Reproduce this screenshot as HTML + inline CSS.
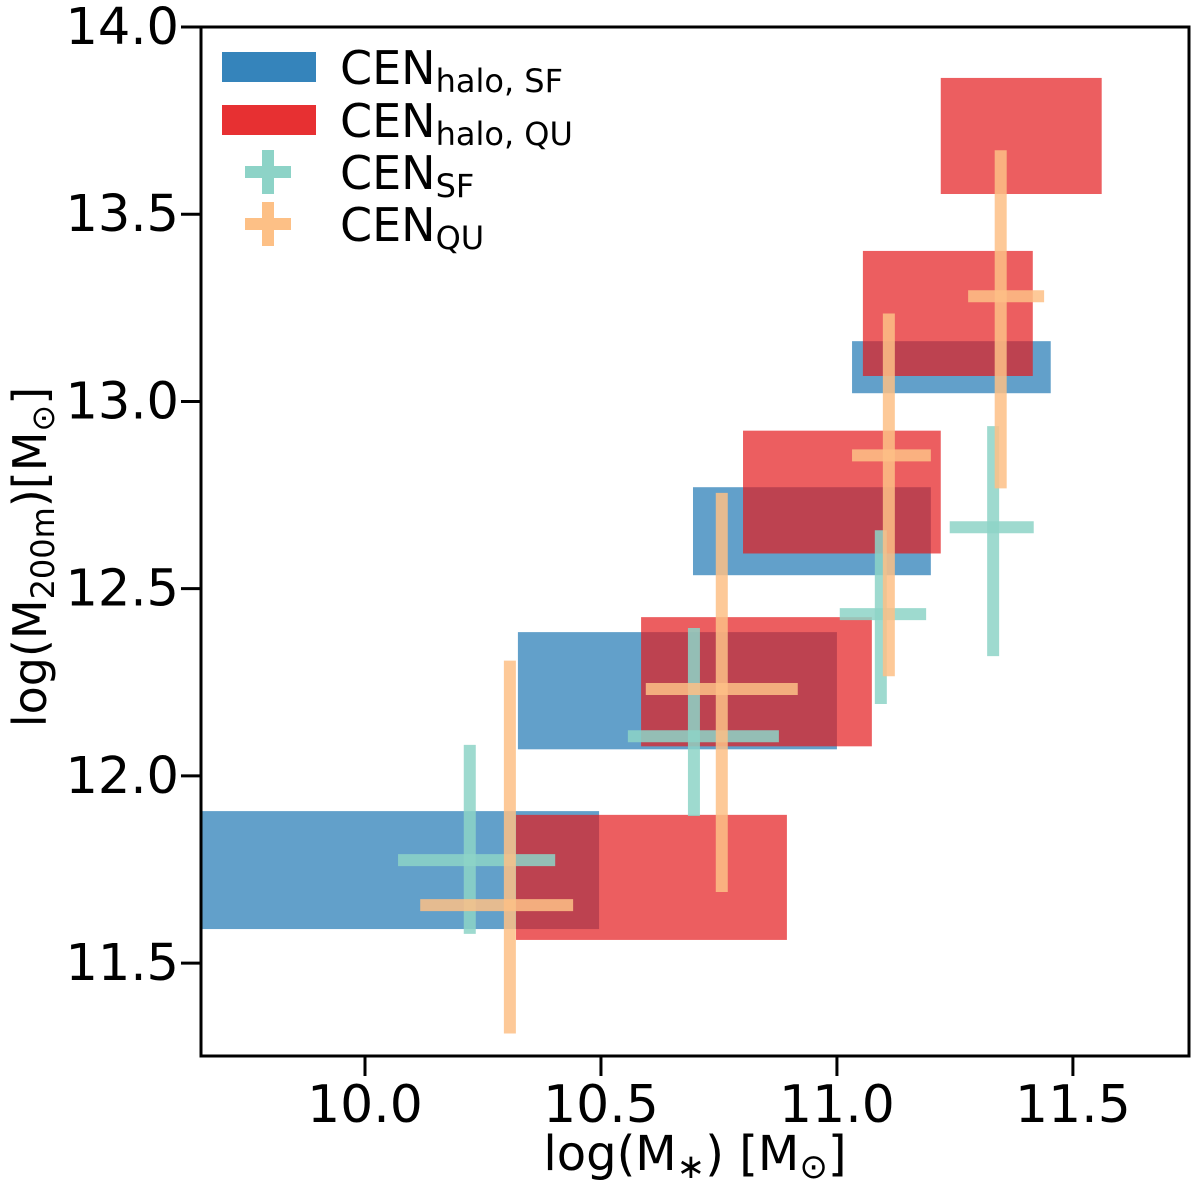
<!DOCTYPE html>
<html><head><meta charset="utf-8"><style>
body{margin:0;background:#fff;}
svg{display:block;font-family:"DejaVu Sans","Liberation Sans",sans-serif;}
</style></head><body>
<svg id="chart" width="1200" height="1193" xmlns="http://www.w3.org/2000/svg"></svg>
<script>
const sfRectX0=[9.60,10.324,10.695,11.032];
const sfRectX1=[10.496,11.0,11.199,11.453];
const sfRectY0=[11.591,12.071,12.536,13.022];
const sfRectY1=[11.906,12.384,12.771,13.161];
const quRectX0=[10.320,10.585,10.801,11.055,11.220];
const quRectX1=[10.894,11.074,11.220,11.415,11.561];
const quRectY0=[11.562,12.079,12.594,13.068,13.554];
const quRectY1=[11.896,12.424,12.922,13.402,13.864];
const sfX=[10.222,10.697,11.093,11.331];
const sfXlo=[10.070,10.557,11.006,11.239];
const sfXhi=[10.403,10.877,11.189,11.417];
const sfY=[11.775,12.106,12.432,12.664];
const sfYlo=[11.578,11.893,12.192,12.320];
const sfYhi=[12.083,12.395,12.656,12.934];
const quX=[10.307,10.756,11.110,11.347];
const quXlo=[10.117,10.595,11.032,11.278];
const quXhi=[10.441,10.917,11.199,11.439];
const quY=[11.655,12.232,12.856,13.281];
const quYlo=[11.312,11.690,12.266,12.768];
const quYhi=[12.308,12.756,13.235,13.671];
const xTicks=[10.0,10.5,11.0,11.5];
const yTicks=[11.5,12.0,12.5,13.0,13.5,14.0];

const L=201,R=1189,T=27,B=1056;
const xmin=9.6525,xmax=11.746,ymin=11.252,ymax=14.0;
const sx=v=>L+(v-xmin)/(xmax-xmin)*(R-L);
const sy=v=>B-(v-ymin)/(ymax-ymin)*(B-T);
const NS="http://www.w3.org/2000/svg";
const svg=document.getElementById('chart');
function mk(tag,attrs,parent){const e=document.createElementNS(NS,tag);for(const k in attrs)e.setAttribute(k,attrs[k]);(parent||svg).appendChild(e);return e;}
const defs=mk('defs',{});
const cp=mk('clipPath',{id:'clip'},defs);mk('rect',{x:L,y:T,width:R-L,height:B-T},cp);
const g=mk('g',{'clip-path':'url(#clip)'});


for(let i=0;i<sfRectX0.length;i++){
 const r=mk('rect',{x:sx(sfRectX0[i]),y:sy(sfRectY1[i]),width:sx(sfRectX1[i])-sx(sfRectX0[i]),height:sy(sfRectY0[i])-sy(sfRectY1[i]),fill:'#1f77b4','fill-opacity':0.7},g);
 
 
}
for(let i=0;i<quRectX0.length;i++){
 const r=mk('rect',{x:sx(quRectX0[i]),y:sy(quRectY1[i]),width:sx(quRectX1[i])-sx(quRectX0[i]),height:sy(quRectY0[i])-sy(quRectY1[i]),fill:'#e41a1c','fill-opacity':0.7},g);
 
 
}
function cross(x,xl,xh,y,yl,yh,col,name){
 const c=mk('g',{stroke:col,'stroke-width':12,'stroke-opacity':0.85},g);
 
 
 mk('line',{x1:sx(xl),x2:sx(xh),y1:sy(y),y2:sy(y)},c);
 mk('line',{x1:sx(x),x2:sx(x),y1:sy(yl),y2:sy(yh)},c);
}
for(let i=0;i<sfX.length;i++)cross(sfX[i],sfXlo[i],sfXhi[i],sfY[i],sfYlo[i],sfYhi[i],'#8dd3c7','sf-cross-'+(i+1));
for(let i=0;i<quX.length;i++)cross(quX[i],quXlo[i],quXhi[i],quY[i],quYlo[i],quYhi[i],'#fdc086','qu-cross-'+(i+1));
const frame=mk('rect',{x:L,y:T,width:R-L,height:B-T,fill:'none',stroke:'#000','stroke-width':3});


xTicks.forEach(v=>{
 mk('line',{x1:sx(v),x2:sx(v),y1:B,y2:B+20,stroke:'#000','stroke-width':3});
 const t=mk('text',{x:sx(v),y:1122,'font-size':52,'text-anchor':'middle'});t.textContent=v.toFixed(1);
 
 
});
yTicks.forEach(v=>{
 mk('line',{x1:L-20,x2:L,y1:sy(v),y2:sy(v),stroke:'#000','stroke-width':3});
 const t=mk('text',{x:L-22,y:sy(v)+17,'font-size':51,'text-anchor':'end'});t.textContent=v.toFixed(1);
 
 
});
</script>
<svg style="position:absolute;left:0;top:0" width="1200" height="1193" xmlns="http://www.w3.org/2000/svg" font-family="DejaVu Sans, Liberation Sans, sans-serif">
<text x="695" y="1170" font-size="48" text-anchor="middle">log(M<tspan font-size="34" dy="8">∗</tspan><tspan dy="-8">) [M</tspan><tspan font-size="34" dy="8">⊙</tspan><tspan dy="-8">]</tspan></text>
<text transform="translate(46,557) rotate(-90)" font-size="46" text-anchor="middle">log(M<tspan font-size="32" dy="8">200m</tspan><tspan dy="-8">)[M</tspan><tspan font-size="32" dy="8">⊙</tspan><tspan dy="-8">]</tspan></text>
<g font-size="46">
<rect x="222" y="52" width="94" height="30" fill="#1f77b4" fill-opacity="0.9"/>
<text x="340" y="84">CEN<tspan font-size="32" dy="8">halo, SF</tspan></text>
<rect x="222" y="105" width="94" height="30" fill="#e41a1c" fill-opacity="0.9"/>
<text x="340" y="137">CEN<tspan font-size="32" dy="8">halo, QU</tspan></text>
<g stroke="#8dd3c7" stroke-width="12"><line x1="245" x2="291" y1="172" y2="172"/><line x1="268" x2="268" y1="150" y2="194"/></g>
<text x="340" y="189">CEN<tspan font-size="32" dy="8">SF</tspan></text>
<g stroke="#fdc086" stroke-width="12"><line x1="245" x2="291" y1="224" y2="224"/><line x1="268" x2="268" y1="202" y2="246"/></g>
<text x="340" y="241">CEN<tspan font-size="32" dy="8">QU</tspan></text>
</g>
</svg>
</body></html>
